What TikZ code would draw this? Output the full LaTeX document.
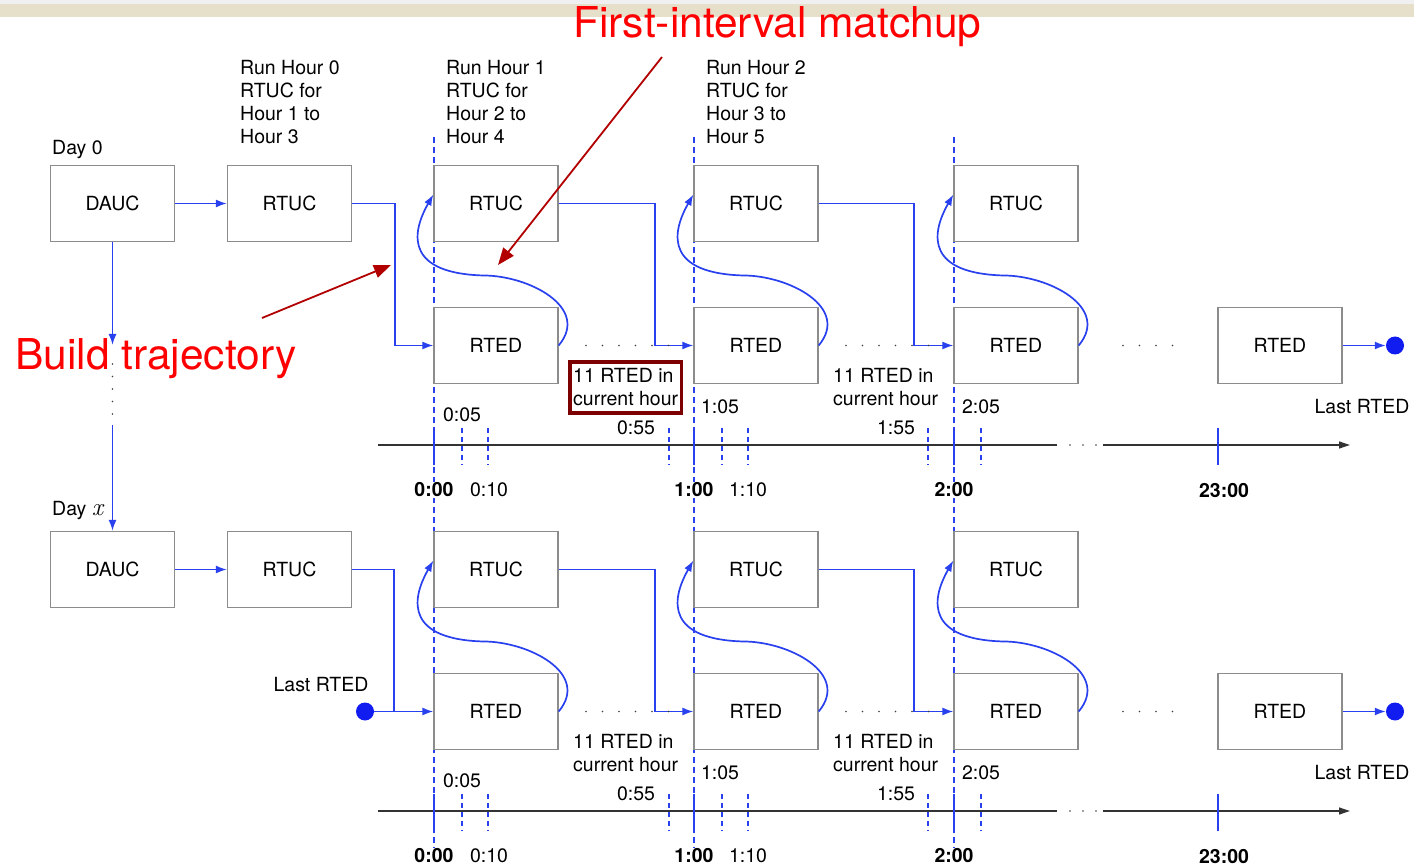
\documentclass[tikz,border=0pt]{standalone}
\usepackage{fontspec}
\setmainfont{TeX Gyre Heros}
\newfontfamily\lmroman{Latin Modern Roman}
\usetikzlibrary{arrows.meta,calc,fit}
\definecolor{flow}{RGB}{40,64,238}
\definecolor{dotblue}{RGB}{16,28,240}
\definecolor{boxgray}{RGB}{140,140,140}
\definecolor{annred}{RGB}{178,0,0}
\definecolor{framered}{RGB}{125,0,0}
\definecolor{bandtan}{RGB}{230,223,201}
\definecolor{hugered}{RGB}{255,0,0}

\begin{document}
\begin{tikzpicture}[x=1pt,y=-1pt,
  every node/.style={font=\fontsize{19.5}{23}\selectfont, inner sep=0pt},
  block/.style={draw=boxgray, line width=1.3pt, minimum width=124pt, minimum height=76pt, fill=white},
  flowline/.style={draw=flow, line width=1.7pt},
  flowarrow/.style={flowline, -{Latex[length=11pt,width=8pt]}},
  hourline/.style={draw=flow, line width=1.2pt, dash pattern=on 6pt off 4pt},
  hourtick/.style={draw=flow, line width=2.8pt},
  minutetick/.style={draw=flow, line width=1.2pt, dash pattern=on 5pt off 4pt},
  axis/.style={draw=black!80, line width=1.2pt},
  axisarrow/.style={axis, -{Triangle[length=11pt,width=7pt]}},
  note/.style={align=left, anchor=west},
  boldtime/.style={font=\fontsize{19.5}{23}\selectfont\bfseries, fill=white, inner sep=1pt},
  callout/.style={text=hugered, font=\fontsize{42.5}{48}\selectfont, anchor=base west},
  calloutarrow/.style={draw=annred, line width=1.8pt, -{Triangle[length=17pt,width=13pt]}},
  tinydot/.style={fill=black!75},
]
\useasboundingbox (0,0) rectangle (1414,866);

% page header band
\fill[white] (0,0) rectangle (1414,866);
\fill[black!6] (0,0) rectangle (1414,4);
\fill[bandtan] (0,4) rectangle (1414,17);

% hour boundaries through both days
\foreach \hx in {434,694,954} {
  \draw[hourline] (\hx,137) -- (\hx,866);
}

% column headers
\node[note] (h0) at (240,102.5) {Run Hour 0\\RTUC for\\Hour 1 to\\Hour 3};
\node[note] (h1) at (446,102.5) {Run Hour 1\\RTUC for\\Hour 2 to\\Hour 4};
\node[note] (h2) at (706,102.5) {Run Hour 2\\RTUC for\\Hour 3 to\\Hour 5};

\node[anchor=base west] (day0) at (52,155) {Day 0};
\node[anchor=base west] (dayx) at (52,515) {Day {\lmroman\itshape\fontsize{25}{25}\selectfont x}};

\foreach \r/\dy in {0/0,1/366} {
  % unit commitment and dispatch blocks
  \node[block] (d\r) at (112.5,203.5+\dy) {DAUC};
  \node[block] (u\r-0) at (289.5,203.5+\dy) {RTUC};
  \foreach \k in {1,2,3} {
    \node[block] (u\r-\k) at (496+260*\k-260,203.5+\dy) {RTUC};
    \node[block] (e\r-\k) at (496+260*\k-260,345.5+\dy) {RTED};
  }
  \node[block] (last\r) at (1280,345.5+\dy) {RTED};
  \node[circle, fill=dotblue, minimum size=18pt] (end\r) at (1395,345.5+\dy) {};

  \draw[flowarrow] (d\r.east) -- (u\r-0.west);
  \draw[flowarrow] (u\r-1.east) -- ++(96,0) |- (e\r-2.west);
  \draw[flowarrow] (u\r-2.east) -- ++(95,0) |- (e\r-3.west);
  \draw[flowarrow] (last\r.east) -- (end\r.west);

  % dispatch result feeding the next commitment run
  \foreach \k in {1,2,3} {
    \draw[flowarrow] (e\r-\k.east) .. controls +(32,-38) and +(45,0) ..
      ($(e\r-\k.east)+(-75,-70)$) .. controls +(-75,-2) and +(-24,42) ..
      ([yshift=9pt]u\r-\k.west);
  }

  % intervals between dispatch runs
  \foreach \sx in {586,602.5,619,635.5,652,668.5, 846,862.5,879,895.5,912,928.5, 1123,1139.5,1156,1172.5} {
    \fill[tinydot] (\sx,345.5+\dy) circle (0.9);
  }
  \node[note] (cur\r-1) at (573,387.5+\dy) {11 RTED in\\current hour};
  \node[note] (cur\r-2) at (833,387.5+\dy) {11 RTED in\\current hour};
  \node (lastlbl\r) at (1362,407+\dy) {Last RTED};

  % time axis
  \coordinate (ax\r-a) at (378,445+\dy);
  \coordinate (ax\r-b) at (1057,445+\dy);
  \coordinate (ax\r-c) at (1103,445+\dy);
  \coordinate (ax\r-d) at (1350,445+\dy);
  \draw[axis] (ax\r-a) -- (ax\r-b);
  \draw[axisarrow] (ax\r-c) -- (ax\r-d);
  \foreach \sx in {1070,1083,1096} {
    \fill[tinydot] (\sx,445+\dy) circle (0.8);
  }
  \foreach \tx in {434,694,954,1218} {
    \draw[hourtick] (\tx,428+\dy) -- (\tx,465+\dy);
  }
  \foreach \tx in {462,488,669,722,748,928,981} {
    \draw[minutetick] (\tx,428+\dy) -- (\tx,465+\dy);
  }
  \node (t05\r) at (462,415+\dy) {0:05};
  \node (t55\r) at (636,428+\dy) {0:55};
  \node (t105\r) at (720,407+\dy) {1:05};
  \node (t155\r) at (896,428+\dy) {1:55};
  \node (t205\r) at (981,407+\dy) {2:05};
  \node[boldtime] (t0\r) at (434,490+\dy) {0:00};
  \node[fill=white, inner sep=1pt] (t10\r) at (489,490+\dy) {0:10};
  \node[boldtime] (t1\r) at (694,490+\dy) {1:00};
  \node[fill=white, inner sep=1pt] (t110\r) at (748,490+\dy) {1:10};
  \node[boldtime] (t2\r) at (954,490+\dy) {2:00};
  \node[boldtime] (t23\r) at (1224,491+\dy) {23:00};
}

% first day: commitment hands over to the first hour
\draw[flowarrow] (u0-0.east) -- ++(43,0) |- (e0-1.west);

% day chain from Day 0 to Day x
\coordinate (chainA) at (112.5,345);
\coordinate (chainB) at (112.5,425);
\draw[flowarrow] (d0.south) -- (chainA);
\foreach \sy in {364,376.5,389,401.5,414} {
  \fill[tinydot] (112.5,\sy) circle (0.9);
}
\draw[flowarrow] (chainB) -- (d1.north);

% Day x starts from the last dispatch of the previous day
\node[circle, fill=dotblue, minimum size=18pt] (start1) at (365,711.5) {};
\node (startlbl) at (321,685) {Last RTED};
\coordinate (join1) at (394,711.5);
\draw[flowline] (u1-0.east) -| (join1);
\draw[flowarrow] (start1.east) -- (e1-1.west);

% highlighted interval
\node[draw=framered, line width=3.6pt, fit=(cur0-1), inner xsep=3pt, inner ysep=6.5pt] (hl) {};

% callouts
\node[callout] (fim) at (573,38) {First-interval matchup};
\coordinate (fimtail) at (662,57);
\coordinate (fimhead) at (498,265);
\draw[calloutarrow] (fimtail) -- (fimhead);

\node[callout] (bt) at (15,370) {Build trajectory};
\coordinate (bttail) at (262,318);
\coordinate (bthead) at (391,265);
\draw[calloutarrow] (bttail) -- (bthead);
\end{tikzpicture}
\end{document}
